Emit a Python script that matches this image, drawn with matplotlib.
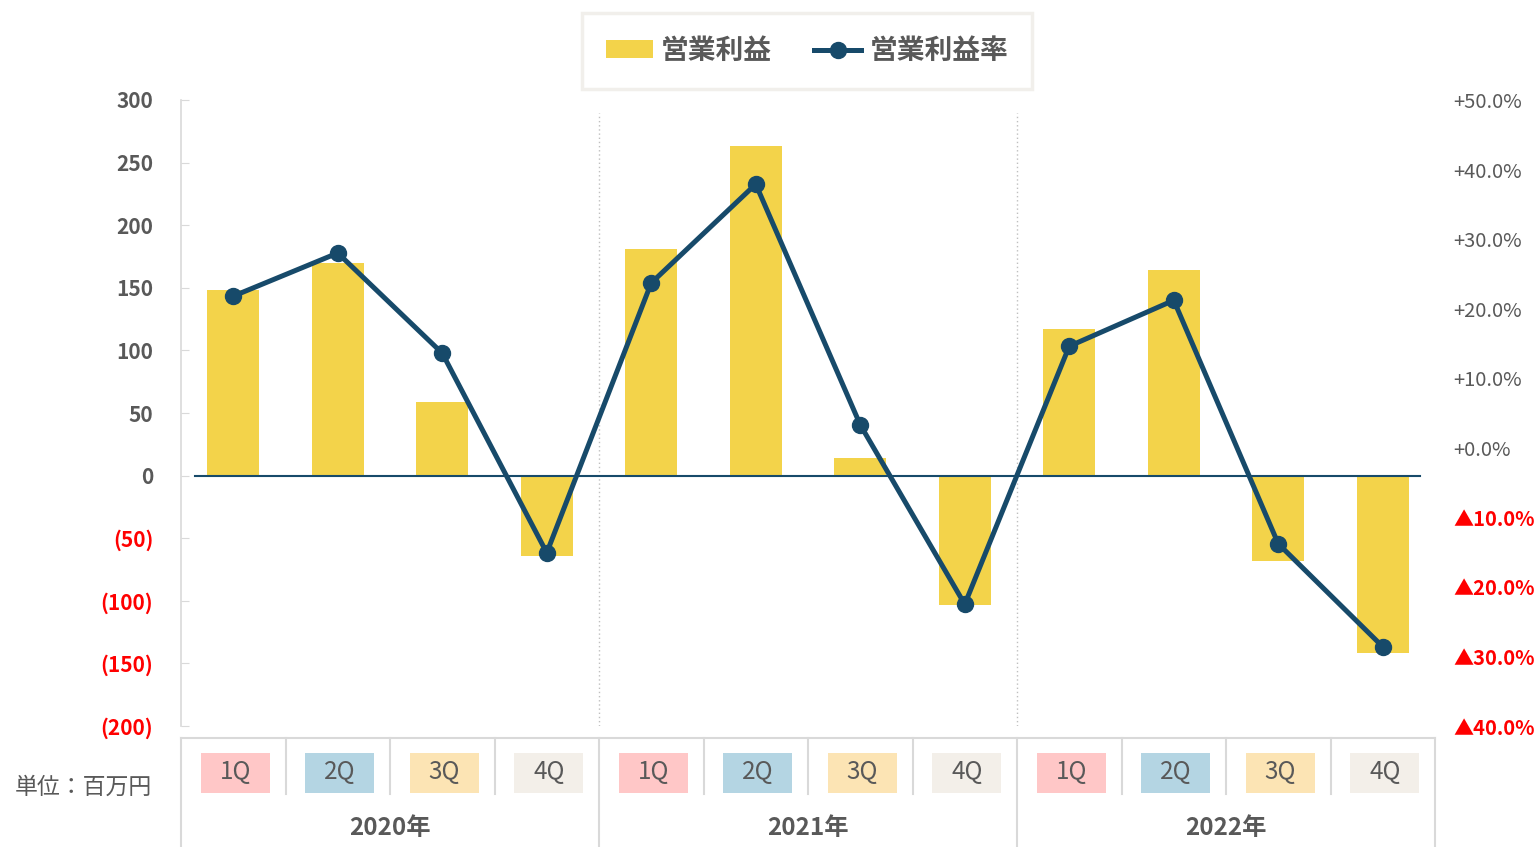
import numpy as np
import matplotlib
matplotlib.use("Agg")
import matplotlib.pyplot as plt
from matplotlib.patches import Rectangle
from matplotlib.lines import Line2D

plt.rcParams['font.family'] = ['Noto Sans CJK JP', 'DejaVu Sans']

# data
years = ['2020年', '2021年', '2022年']
quarters = ['1Q', '2Q', '3Q', '4Q']
profit = [148, 170, 59, -64, 181, 263, 14, -103, 117, 164, -68, -142]
margin = [21.8, 28.0, 13.6, -15.1, 23.7, 37.9, 3.3, -22.5, 14.6, 21.2, -13.8, -28.6]
left_ticks = [300, 250, 200, 150, 100, 50, 0, -50, -100, -150, -200]
right_ticks = [50, 40, 30, 20, 10, 0, -10, -20, -30, -40]

bar_color = '#F3D34A'
line_color = '#174A6A'
q_colors = ['#FFC7C7', '#B4D5E3', '#FCE4B4', '#F3EFE9']
gray = '#595959'
grid_gray = '#D9D9D9'

W, H = 1538, 847
fig = plt.figure(figsize=(W / 100, H / 100), dpi=100)
ax = fig.add_axes([181 / W, (H - 726) / H, (1435 - 181) / W, 626 / H])

x = np.arange(len(profit))
ax.bar(x, profit, width=0.5, color=bar_color, zorder=2)
ax.set_xlim(-0.5, len(profit) - 0.5)
ax.set_ylim(-200, 300)
ax.axhline(0, xmin=0.011, xmax=0.988, color=line_color, lw=1.5, zorder=3)

for s in ['top', 'right', 'bottom']:
    ax.spines[s].set_visible(False)
ax.spines['left'].set_color(grid_gray)
ax.spines['left'].set_linewidth(1.2)
ax.set_xticks([])
ax.set_yticks(left_ticks)
ax.set_yticklabels([f'({-v})' if v < 0 else str(v) for v in left_ticks])
ax.tick_params(axis='y', direction='in', length=6, color=grid_gray, pad=20,
               labelsize=15)
for v, lab in zip(left_ticks, ax.get_yticklabels()):
    lab.set_fontweight('bold')
    lab.set_color('red' if v < 0 else gray)

# year separators in plot area
for xs in [3.5, 7.5]:
    ax.axvline(xs, ymin=0, ymax=0.98, color='#BFBFBF', lw=1, ls=(0, (1, 2)), zorder=1)

ax2 = ax.twinx()
ax2.plot(x, margin, color=line_color, lw=3.6, marker='o', markersize=11.5, zorder=4)
ax2.set_ylim(-40, 50)
for s in ax2.spines.values():
    s.set_visible(False)
ax2.set_yticks(right_ticks)
ax2.set_yticklabels([f'▲{-v:.1f}%' if v < 0 else f'+{v:.1f}%' for v in right_ticks])
ax2.tick_params(axis='y', length=0, pad=13, labelsize=14.5)
for v, lab in zip(right_ticks, ax2.get_yticklabels()):
    lab.set_color('red' if v < 0 else gray)
    lab.set_fontweight('bold' if v < 0 else 'normal')

# category axis box
tr = ax.get_xaxis_transform()
y_top, y_qdiv, y_bot = -12 / 626, -68 / 626, -121 / 626
ax.plot([-0.5, 11.5], [y_top, y_top], transform=tr, color=grid_gray, lw=1.5, clip_on=False)
for xs in [-0.5, 3.5, 7.5, 11.5]:
    ax.plot([xs, xs], [y_top, y_bot], transform=tr, color=grid_gray, lw=1.5, clip_on=False)
for i in range(len(profit)):
    if i % 4 != 0:
        ax.plot([i - 0.5, i - 0.5], [y_top, y_qdiv], transform=tr, color=grid_gray,
                lw=1.5, clip_on=False)
    q = i % 4
    ax.add_patch(Rectangle((i - 0.31, -67 / 626), 0.66, 40 / 626, transform=tr,
                           facecolor=q_colors[q], edgecolor='none', clip_on=False))
    ax.text(i + 0.02, -46 / 626, quarters[q], transform=tr, ha='center', va='center',
            fontsize=17.5, color=gray)
for j, yr in enumerate(years):
    ax.text(j * 4 + 1.5, -102 / 626, yr, transform=tr, ha='center', va='center',
            fontsize=17.5, fontweight='bold', color=gray)

fig.text(15 / W, 1 - 787 / H, '単位：百万円', ha='left', va='center', fontsize=16.5,
         color=gray)

# legend
handles = [Rectangle((0, 0), 1, 1, facecolor=bar_color, edgecolor='none'),
           Line2D([], [], color=line_color, lw=3.6, marker='o', markersize=11.5)]
leg = fig.legend(handles, ['営業利益', '営業利益率'], loc='center',
                 bbox_to_anchor=(807 / W, 1 - 51 / H), ncol=2, frameon=True,
                 fancybox=False, handlelength=1.7, handleheight=0.6,
                 columnspacing=1.5, handletextpad=0.3, borderpad=0.85,
                 borderaxespad=0, prop={'size': 20, 'weight': 'bold'})
leg.get_frame().set_edgecolor('#EEEBE7')
leg.get_frame().set_linewidth(2.5)
for t in leg.get_texts():
    t.set_color(gray)
# widen the frame a little, like the reference box
leg._legend_box.sep = 0

fig.savefig('out.png', dpi=100)
